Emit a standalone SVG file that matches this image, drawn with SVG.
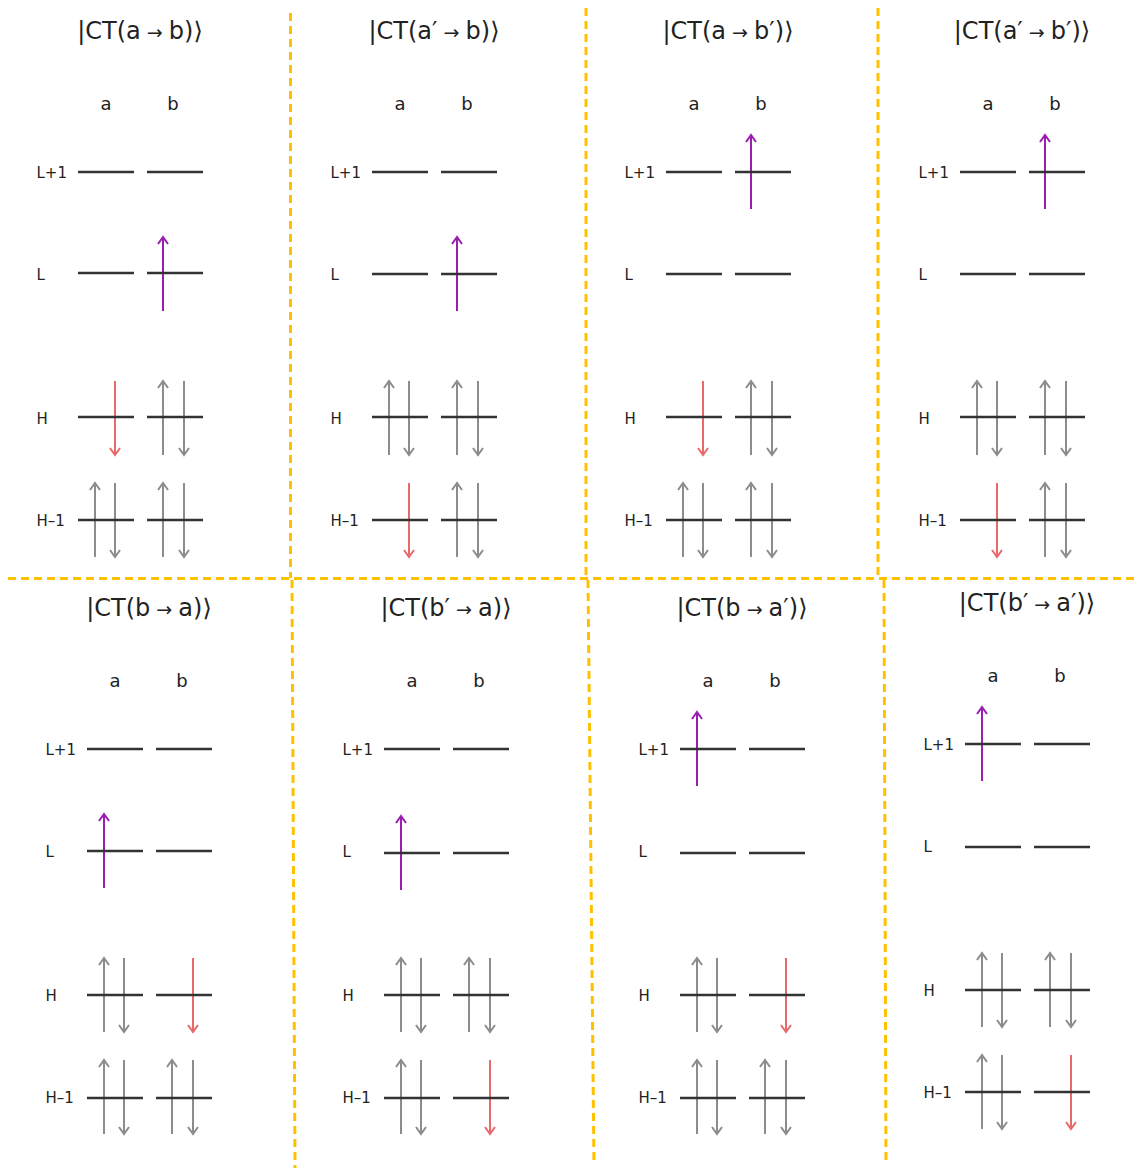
<svg xmlns="http://www.w3.org/2000/svg" width="1137" height="1169" viewBox="0 0 1137 1169">
<style>
text{font-family:"DejaVu Sans","Liberation Sans",sans-serif;fill:#222}
.t{font-size:24px;text-anchor:middle}
.ar{font-size:19px}
.s{font-size:18px;text-anchor:middle}
.l{font-size:15px}
.lvl{stroke:#333;stroke-width:2.5;fill:none}
.dash{stroke:#FFC000;stroke-width:3;stroke-dasharray:8 5;fill:none}
.g{stroke:#8c8c8c;stroke-width:2;marker-end:url(#mg)}
.p{stroke:#9a1fb0;stroke-width:2;marker-end:url(#mp)}
.r{stroke:#e8696b;stroke-width:2;marker-end:url(#mr)}
</style>
<defs>
<marker id="mg" markerUnits="userSpaceOnUse" markerWidth="14" markerHeight="14" viewBox="-8 -7 14 14" refX="0" refY="0" orient="auto"><path d="M-7,-5L0,0L-7,5" fill="none" stroke="#8c8c8c" stroke-width="2"/></marker>
<marker id="mp" markerUnits="userSpaceOnUse" markerWidth="14" markerHeight="14" viewBox="-8 -7 14 14" refX="0" refY="0" orient="auto"><path d="M-7,-5L0,0L-7,5" fill="none" stroke="#9a1fb0" stroke-width="2"/></marker>
<marker id="mr" markerUnits="userSpaceOnUse" markerWidth="14" markerHeight="14" viewBox="-8 -7 14 14" refX="0" refY="0" orient="auto"><path d="M-7,-5L0,0L-7,5" fill="none" stroke="#e8696b" stroke-width="2"/></marker>
</defs>
<rect width="1137" height="1169" fill="#fff"/>

<g id="separators">
<path class="dash" d="M8,578.5H1137"/>
<path class="dash" d="M290.5,13V578"/>
<path class="dash" d="M586,8V578"/>
<path class="dash" d="M878,8V578"/>
<path class="dash" d="M292,580L295,1168"/>
<path class="dash" d="M588,580L594,1165"/>
<path class="dash" d="M884,580L886,1165"/>
</g>

<g id="p1" transform="translate(78,172)">
<text class="t" x="62" y="-133">|CT(a<tspan class="ar"> → </tspan>b)⟩</text>
<text class="s" x="28" y="-62.5">a</text><text class="s" x="95" y="-62.5">b</text>
<text class="l" x="-41.5" y="5.5">L+1</text><text class="l" x="-41.5" y="107.5">L</text><text class="l" x="-41.5" y="251.5">H</text><text class="l" x="-41.5" y="353.5">H–1</text>
<line class="p" x1="85" y1="139" x2="85" y2="65"/>
<line class="r" x1="37" y1="209" x2="37" y2="283"/>
<line class="g" x1="85" y1="283" x2="85" y2="209"/><line class="g" x1="106" y1="209" x2="106" y2="283"/>
<line class="g" x1="17" y1="385" x2="17" y2="311"/><line class="g" x1="37" y1="311" x2="37" y2="385"/>
<line class="g" x1="85" y1="385" x2="85" y2="311"/><line class="g" x1="106" y1="311" x2="106" y2="385"/>
<path class="lvl" d="M0,0H56M69,0H125M0,101H56M69,101H125M0,245H56M69,245H125M0,348H56M69,348H125"/>
</g>

<g id="p2" transform="translate(372,172)">
<text class="t" x="62" y="-133">|CT(a′<tspan class="ar"> → </tspan>b)⟩</text>
<text class="s" x="28" y="-62.5">a</text><text class="s" x="95" y="-62.5">b</text>
<text class="l" x="-41.5" y="5.5">L+1</text><text class="l" x="-41.5" y="107.5">L</text><text class="l" x="-41.5" y="251.5">H</text><text class="l" x="-41.5" y="353.5">H–1</text>
<line class="p" x1="85" y1="139" x2="85" y2="65"/>
<line class="g" x1="17" y1="283" x2="17" y2="209"/><line class="g" x1="37" y1="209" x2="37" y2="283"/>
<line class="g" x1="85" y1="283" x2="85" y2="209"/><line class="g" x1="106" y1="209" x2="106" y2="283"/>
<line class="r" x1="37" y1="311" x2="37" y2="385"/>
<line class="g" x1="85" y1="385" x2="85" y2="311"/><line class="g" x1="106" y1="311" x2="106" y2="385"/>
<path class="lvl" d="M0,0H56M69,0H125M0,102H56M69,102H125M0,245H56M69,245H125M0,348H56M69,348H125"/>
</g>

<g id="p3" transform="translate(666,172)">
<text class="t" x="62" y="-133">|CT(a<tspan class="ar"> → </tspan>b′)⟩</text>
<text class="s" x="28" y="-62.5">a</text><text class="s" x="95" y="-62.5">b</text>
<text class="l" x="-41.5" y="5.5">L+1</text><text class="l" x="-41.5" y="107.5">L</text><text class="l" x="-41.5" y="251.5">H</text><text class="l" x="-41.5" y="353.5">H–1</text>
<line class="p" x1="85" y1="37" x2="85" y2="-37"/>
<line class="r" x1="37" y1="209" x2="37" y2="283"/>
<line class="g" x1="85" y1="283" x2="85" y2="209"/><line class="g" x1="106" y1="209" x2="106" y2="283"/>
<line class="g" x1="17" y1="385" x2="17" y2="311"/><line class="g" x1="37" y1="311" x2="37" y2="385"/>
<line class="g" x1="85" y1="385" x2="85" y2="311"/><line class="g" x1="106" y1="311" x2="106" y2="385"/>
<path class="lvl" d="M0,0H56M69,0H125M0,102H56M69,102H125M0,245H56M69,245H125M0,348H56M69,348H125"/>
</g>

<g id="p4" transform="translate(960,172)">
<text class="t" x="62" y="-133">|CT(a′<tspan class="ar"> → </tspan>b′)⟩</text>
<text class="s" x="28" y="-62.5">a</text><text class="s" x="95" y="-62.5">b</text>
<text class="l" x="-41.5" y="5.5">L+1</text><text class="l" x="-41.5" y="107.5">L</text><text class="l" x="-41.5" y="251.5">H</text><text class="l" x="-41.5" y="353.5">H–1</text>
<line class="p" x1="85" y1="37" x2="85" y2="-37"/>
<line class="g" x1="17" y1="283" x2="17" y2="209"/><line class="g" x1="37" y1="209" x2="37" y2="283"/>
<line class="g" x1="85" y1="283" x2="85" y2="209"/><line class="g" x1="106" y1="209" x2="106" y2="283"/>
<line class="r" x1="37" y1="311" x2="37" y2="385"/>
<line class="g" x1="85" y1="385" x2="85" y2="311"/><line class="g" x1="106" y1="311" x2="106" y2="385"/>
<path class="lvl" d="M0,0H56M69,0H125M0,102H56M69,102H125M0,245H56M69,245H125M0,348H56M69,348H125"/>
</g>

<g id="p5" transform="translate(87,749)">
<text class="t" x="62" y="-133">|CT(b<tspan class="ar"> → </tspan>a)⟩</text>
<text class="s" x="28" y="-62.5">a</text><text class="s" x="95" y="-62.5">b</text>
<text class="l" x="-41.5" y="5.5">L+1</text><text class="l" x="-41.5" y="107.5">L</text><text class="l" x="-41.5" y="251.5">H</text><text class="l" x="-41.5" y="353.5">H–1</text>
<line class="p" x1="17" y1="139" x2="17" y2="65"/>
<line class="g" x1="17" y1="283" x2="17" y2="209"/><line class="g" x1="37" y1="209" x2="37" y2="283"/>
<line class="r" x1="106" y1="209" x2="106" y2="283"/>
<line class="g" x1="17" y1="385" x2="17" y2="311"/><line class="g" x1="37" y1="311" x2="37" y2="385"/>
<line class="g" x1="85" y1="385" x2="85" y2="311"/><line class="g" x1="106" y1="311" x2="106" y2="385"/>
<path class="lvl" d="M0,0H56M69,0H125M0,102H56M69,102H125M0,246H56M69,246H125M0,349H56M69,349H125"/>
</g>

<g id="p6" transform="translate(384,749)">
<text class="t" x="62" y="-133">|CT(b′<tspan class="ar"> → </tspan>a)⟩</text>
<text class="s" x="28" y="-62.5">a</text><text class="s" x="95" y="-62.5">b</text>
<text class="l" x="-41.5" y="5.5">L+1</text><text class="l" x="-41.5" y="107.5">L</text><text class="l" x="-41.5" y="251.5">H</text><text class="l" x="-41.5" y="353.5">H–1</text>
<line class="p" x1="17" y1="141" x2="17" y2="67"/>
<line class="g" x1="17" y1="283" x2="17" y2="209"/><line class="g" x1="37" y1="209" x2="37" y2="283"/>
<line class="g" x1="85" y1="283" x2="85" y2="209"/><line class="g" x1="106" y1="209" x2="106" y2="283"/>
<line class="g" x1="17" y1="385" x2="17" y2="311"/><line class="g" x1="37" y1="311" x2="37" y2="385"/>
<line class="r" x1="106" y1="311" x2="106" y2="385"/>
<path class="lvl" d="M0,0H56M69,0H125M0,104H56M69,104H125M0,246H56M69,246H125M0,349H56M69,349H125"/>
</g>

<g id="p7" transform="translate(680,749)">
<text class="t" x="62" y="-133">|CT(b<tspan class="ar"> → </tspan>a′)⟩</text>
<text class="s" x="28" y="-62.5">a</text><text class="s" x="95" y="-62.5">b</text>
<text class="l" x="-41.5" y="5.5">L+1</text><text class="l" x="-41.5" y="107.5">L</text><text class="l" x="-41.5" y="251.5">H</text><text class="l" x="-41.5" y="353.5">H–1</text>
<line class="p" x1="17" y1="37" x2="17" y2="-37"/>
<line class="g" x1="17" y1="283" x2="17" y2="209"/><line class="g" x1="37" y1="209" x2="37" y2="283"/>
<line class="r" x1="106" y1="209" x2="106" y2="283"/>
<line class="g" x1="17" y1="385" x2="17" y2="311"/><line class="g" x1="37" y1="311" x2="37" y2="385"/>
<line class="g" x1="85" y1="385" x2="85" y2="311"/><line class="g" x1="106" y1="311" x2="106" y2="385"/>
<path class="lvl" d="M0,0H56M69,0H125M0,104H56M69,104H125M0,246H56M69,246H125M0,349H56M69,349H125"/>
</g>

<g id="p8" transform="translate(965,744)">
<text class="t" x="62" y="-133">|CT(b′<tspan class="ar"> → </tspan>a′)⟩</text>
<text class="s" x="28" y="-62.5">a</text><text class="s" x="95" y="-62.5">b</text>
<text class="l" x="-41.5" y="5.5">L+1</text><text class="l" x="-41.5" y="107.5">L</text><text class="l" x="-41.5" y="251.5">H</text><text class="l" x="-41.5" y="353.5">H–1</text>
<line class="p" x1="17" y1="37" x2="17" y2="-37"/>
<line class="g" x1="17" y1="283" x2="17" y2="209"/><line class="g" x1="37" y1="209" x2="37" y2="283"/>
<line class="g" x1="85" y1="283" x2="85" y2="209"/><line class="g" x1="106" y1="209" x2="106" y2="283"/>
<line class="g" x1="17" y1="385" x2="17" y2="311"/><line class="g" x1="37" y1="311" x2="37" y2="385"/>
<line class="r" x1="106" y1="311" x2="106" y2="385"/>
<path class="lvl" d="M0,0H56M69,0H125M0,103H56M69,103H125M0,246H56M69,246H125M0,348H56M69,348H125"/>
</g>
</svg>
